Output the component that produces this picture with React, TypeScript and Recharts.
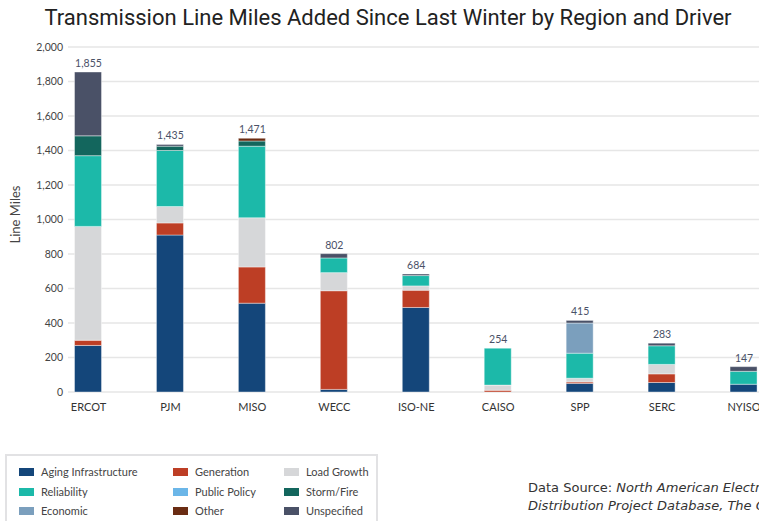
import React from 'react';
import { ComposedChart, Bar, Line, XAxis, YAxis, CartesianGrid, LabelList, Label } from 'recharts';

const regions = ['ERCOT', 'PJM', 'MISO', 'WECC', 'ISO-NE', 'CAISO', 'SPP', 'SERC', 'NYISO'];
const totals = [1855, 1435, 1471, 802, 684, 254, 415, 283, 147];
const agingInfrastructure = [270, 910, 515, 15, 490, 0, 50, 55, 45];
const generation = [30, 70, 210, 572, 100, 10, 8, 50, 0];
const loadGrowth = [660, 95, 285, 105, 25, 30, 22, 55, 0];
const reliability = [410, 325, 415, 85, 60, 214, 145, 108, 75];
const publicPolicy = [0, 0, 0, 0, 0, 0, 0, 0, 0];
const stormFire = [115, 25, 30, 0, 0, 0, 0, 0, 0];
const economic = [0, 0, 0, 0, 0, 0, 175, 0, 0];
const other = [0, 0, 16, 0, 0, 0, 0, 0, 0];
const unspecified = [370, 10, 0, 25, 9, 0, 15, 15, 27];
const yTicks = [0, 200, 400, 600, 800, 1000, 1200, 1400, 1600, 1800, 2000];

const series = [
  { key: 'aging', name: 'Aging Infrastructure', color: '#14467a', values: agingInfrastructure },
  { key: 'generation', name: 'Generation', color: '#bd3e25', values: generation },
  { key: 'load', name: 'Load Growth', color: '#d6d7d9', values: loadGrowth },
  { key: 'reliability', name: 'Reliability', color: '#1cb9a9', values: reliability },
  { key: 'policy', name: 'Public Policy', color: '#6bb6e8', values: publicPolicy },
  { key: 'storm', name: 'Storm/Fire', color: '#13665d', values: stormFire },
  { key: 'economic', name: 'Economic', color: '#7b9fbd', values: economic },
  { key: 'other', name: 'Other', color: '#6a2c13', values: other },
  { key: 'unspecified', name: 'Unspecified', color: '#4a5167', values: unspecified },
];

const data = regions.map((r, i) => {
  const row: any = { idx: i, region: r, total: totals[i] };
  series.forEach((s) => {
    row[s.key] = s.values[i];
  });
  return row;
});

const fmt = (v: number) => v.toLocaleString('en-US');

export default function App() {
  const font = 'Lato, "Noto Sans", sans-serif';
  return (
    <div style={{ position: 'fixed', left: 0, top: 0, width: 759, height: 521, overflow: 'hidden', background: '#fff' }}>
      <div
        style={{
          position: 'absolute',
          left: 0,
          width: 776,
          top: 5,
          textAlign: 'center',
          fontFamily: 'Roboto, sans-serif',
          fontSize: 22,
          color: '#222',
          whiteSpace: 'nowrap',
        }}
      >
        Transmission Line Miles Added Since Last Winter by Region and Driver
      </div>
      <div style={{ position: 'absolute', left: 0, top: 0 }}>
        <ComposedChart
          width={800}
          height={422}
          data={data}
          barSize={27}
          margin={{ top: 47, right: 15, left: 0, bottom: 0 }}
        >
          <CartesianGrid horizontal vertical={false} stroke="#e6e6e6" strokeWidth={1.5} />
          <XAxis
            dataKey="idx"
            type="number"
            domain={[-0.25, 8.5]}
            ticks={[0, 1, 2, 3, 4, 5, 6, 7, 8]}
            interval={0}
            allowDataOverflow
            tickFormatter={(v: number) => regions[v] ?? ''}
            tickLine={false}
            axisLine={false}
            tickSize={6}
            tickMargin={5}
            height={30}
            tick={{ fill: '#333', fontSize: 11, fontFamily: font }}
          />
          <YAxis
            domain={[0, 2000]}
            ticks={yTicks}
            interval={0}
            tickFormatter={fmt}
            tickLine={false}
            axisLine={false}
            width={68}
            tickSize={3}
            tickMargin={2}
            tick={{ fill: '#444', fontSize: 10.5, fontFamily: font }}
          >
            <Label
              content={(props: any) => {
                const vb = props.viewBox || { x: 0, y: 47, width: 68, height: 345 };
                const cx = vb.x + 15;
                const cy = vb.y + vb.height / 2 - 5;
                return (
                  <text
                    x={cx}
                    y={cy}
                    transform={`rotate(-90 ${cx} ${cy})`}
                    textAnchor="middle"
                    dominantBaseline="central"
                    fill="#444"
                    fontSize={13}
                    fontFamily={font}
                  >
                    Line Miles
                  </text>
                );
              }}
            />
          </YAxis>
          {series.map((s) => (
            <Bar
              key={s.key}
              dataKey={s.key}
              name={s.name}
              stackId="a"
              fill={s.color}
              stroke="#ffffff"
              strokeWidth={0.4}
              isAnimationActive={false}
            />
          ))}
          <Line
            dataKey="total"
            stroke="none"
            dot={false}
            activeDot={false}
            legendType="none"
            isAnimationActive={false}
          >
            <LabelList
              dataKey="total"
              position="top"
              offset={5}
              formatter={(v: any) => fmt(Number(v))}
              style={{ fill: '#4a5167', fontSize: 10.5, fontFamily: font }}
            />
          </Line>
        </ComposedChart>
      </div>
      <div
        style={{
          position: 'absolute',
          left: 5,
          top: 454,
          width: 373,
          height: 80,
          border: '2px solid #e2e2e4',
          boxSizing: 'border-box',
        }}
      >
        {series.map((s, i) => {
          const col = i % 3;
          const row = Math.floor(i / 3);
          const colX = [12, 166, 277][col];
          const rowY = [9, 29, 48][row];
          return (
            <div
              key={s.key}
              style={{
                position: 'absolute',
                left: colX,
                top: rowY,
                display: 'flex',
                alignItems: 'center',
                fontFamily: font,
                fontSize: 11,
                color: '#444',
                whiteSpace: 'nowrap',
              }}
            >
              <span style={{ display: 'inline-block', width: 15, height: 8, background: s.color, marginRight: 7 }} />
              {s.name}
            </div>
          );
        })}
      </div>
      <div
        style={{
          position: 'absolute',
          left: 528,
          top: 479,
          fontFamily: '"DejaVu Sans", sans-serif',
          fontSize: 13,
          color: '#333',
          lineHeight: '18px',
          whiteSpace: 'nowrap',
        }}
      >
        <div>
          Data Source: <i>North American Electric Transmission and</i>
        </div>
        <div>
          <i>Distribution Project Database, The Grid Report</i>
        </div>
      </div>
    </div>
  );
}
